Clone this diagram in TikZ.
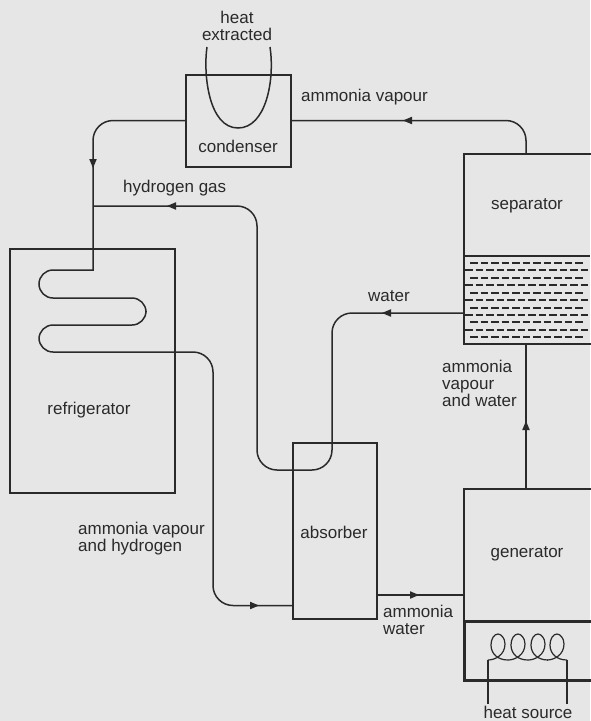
\documentclass[tikz,border=0pt]{standalone}
\usepackage{fontspec}
\setmainfont{Liberation Sans}
\definecolor{bg}{HTML}{E6E6E6}
\definecolor{ink}{HTML}{2A2A2A}
\tikzset{
  x=1pt,y=-1pt,
  box/.style={draw=ink,line width=2pt,fill=none,inner sep=0pt,outer sep=0pt,anchor=north west},
  thickbox/.style={box,line width=3pt},
  pipe/.style={draw=ink,line width=1.5pt},
  lbl/.style={text=ink,font=\fontsize{17}{17}\selectfont,inner sep=0pt,align=left},
  clbl/.style={lbl,align=center},
  liquidA/.style={draw=ink,line width=1.1pt,dash pattern=on 7.5pt off 3pt},
  head/.style={fill=ink,draw=none},
}
\newcommand{\headL}[2]{\fill[head] (#1,#2) -- (#1+9,#2-3.8) -- (#1+9,#2+3.8) -- cycle;}
\newcommand{\headR}[2]{\fill[head] (#1,#2) -- (#1-9,#2-3.8) -- (#1-9,#2+3.8) -- cycle;}
\newcommand{\headD}[2]{\fill[head] (#1,#2) -- (#1-3.8,#2-9) -- (#1+3.8,#2-9) -- cycle;}
\newcommand{\headU}[2]{\fill[head] (#1,#2) -- (#1-3.8,#2+9) -- (#1+3.8,#2+9) -- cycle;}
\begin{document}
\begin{tikzpicture}
\useasboundingbox (0,0) rectangle (590,721);
\fill[bg] (0,0) rectangle (590,721);
% equipment
\node[box,minimum width=105pt,minimum height=92pt] (cond) at (186,75) {};
\node[box,minimum width=165pt,minimum height=244pt] (frig) at (10,249) {};
\node[box,minimum width=130pt,minimum height=190pt] (sep) at (464,153.5) {};
\node[box,minimum width=84pt,minimum height=176pt] (abs) at (293,443) {};
\node[box,minimum width=130pt,minimum height=132pt] (gen) at (464,489) {};
\node[thickbox,minimum width=130pt,minimum height=59pt] (heater) at (464,621) {};
\draw[ink,line width=2pt] (464,256) -- (590,256);
% waypoints
\coordinate (j) at (93,206);
\coordinate (leadL) at (488,704);
\coordinate (leadR) at (567,704);
\coordinate (coilL) at (488,660);
\coordinate (coilR) at (567,660);
% liquid
\foreach \yy in {263,278,293,308,322,337} \draw[liquidA] (470,\yy) -- (585,\yy);
\foreach \yy in {270,285,300,315,330} \draw[liquidA] (465,\yy) -- (590,\yy);
% ammonia vapour to condenser
\draw[pipe,rounded corners=20pt] (526,154) -- (526,120.5) -- (291,120.5);
\headL{403}{120.5}
% condenser to refrigerator coil and absorber
\draw[pipe,rounded corners=20pt] (186,120.5) -- (93,120.5) [rounded corners=0pt] -- (93,270) [rounded corners=14pt] -- (39,270) -- (39,298)
  -- (146,298) -- (146,325) -- (39,325) -- (39,352) [rounded corners=20pt] -- (213,352) -- (213,605.5) -- (293,605.5);
\headD{93}{168}
\headR{259}{605.5}
% hydrogen gas loop
\draw[pipe,rounded corners=20pt] (j) -- (257,206) -- (257,470) -- (332,470) -- (332,313) -- (464,313);
\headL{167}{206}
\headL{382}{313}
% generator to separator
\draw[pipe] (526,489) -- (526,343);
\headU{526}{421}
% absorber to generator
\draw[pipe] (377,595) -- (464,595);
\headR{419}{595}
% heat loop
\draw[pipe] (207,47) .. controls (203,75) and (209,128) .. (238,128) .. controls (266,128) and (275,80) .. (270,47);
% heater coil
\foreach \c in {498,518,538,557}
  \draw[pipe,line width=1.2pt] (\c-10,660) .. controls (\c-3,660) and (\c+7,655) .. (\c+7,644)
    .. controls (\c+7,638) and (\c+3,634) .. (\c,634)
    .. controls (\c-4,634) and (\c-7,639) .. (\c-7,645)
    .. controls (\c-7,654) and (\c,660) .. (\c+10,660);
\draw[pipe] (coilL) -- (leadL);
\draw[pipe] (coilR) -- (leadR);
% labels
\node[clbl] (t1) at (237,26) {heat\\extracted};
\node[clbl] (t2) at (238,146) {condenser};
\node[lbl,anchor=west] (t3) at (301,97) {ammonia vapour};
\node[lbl,anchor=west] (t4) at (123,188) {hydrogen gas};
\node[clbl] (t5) at (527,206) {separator};
\node[lbl,anchor=west] (t6) at (368,296) {water};
\node[lbl,anchor=north west] (t7) at (442,359.5) {ammonia\\vapour\\and water};
\node[clbl] (t8) at (89,410) {refrigerator};
\node[lbl,anchor=north west] (t9) at (78,521.5) {ammonia vapour\\and hydrogen};
\node[clbl] (t10) at (334,532) {absorber};
\node[clbl] (t11) at (527,554) {generator};
\node[lbl,anchor=north west] (t12) at (383,604.5) {ammonia\\water};
\node[clbl] (t13) at (528,712.5) {heat source};
\end{tikzpicture}
\end{document}
